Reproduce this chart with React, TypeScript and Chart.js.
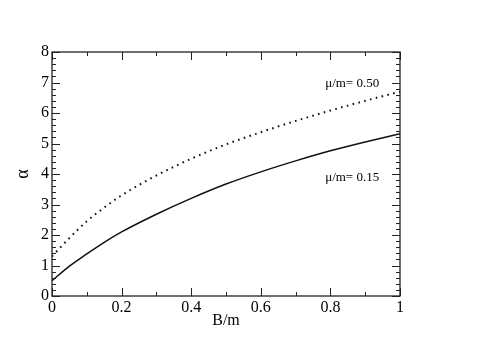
import React, { useEffect, useRef } from "react";
import { Chart, registerables } from "chart.js";

Chart.register(...registerables);

const bValues = [0, 0.05, 0.1, 0.15, 0.2, 0.3, 0.4, 0.5, 0.6, 0.7, 0.8, 0.9, 1.0];
const alphaMu015 = [0.5, 0.98, 1.38, 1.76, 2.1, 2.68, 3.2, 3.67, 4.07, 4.43, 4.76, 5.05, 5.32];
const alphaMu050 = [1.3, 1.9, 2.45, 2.9, 3.3, 3.95, 4.5, 4.97, 5.37, 5.74, 6.08, 6.4, 6.7];
const xTicks = [0, 0.2, 0.4, 0.6, 0.8, 1];
const yTicks = [0, 1, 2, 3, 4, 5, 6, 7, 8];
const labels = [
  { text: "\u03bc/m= 0.50", x: 0.785, y: 6.98 },
  { text: "\u03bc/m= 0.15", x: 0.785, y: 3.87 },
];

const FONT = "Liberation Serif, Times New Roman, serif";

const framePlugin = {
  id: "frameTicks",
  afterDatasetsDraw(chart: any) {
    const { ctx, chartArea: a, scales } = chart;
    const xs = scales.x;
    const ys = scales.y;
    ctx.save();
    ctx.strokeStyle = "#222";
    ctx.lineWidth = 1.3;
    ctx.strokeRect(a.left, a.top, a.right - a.left, a.bottom - a.top);
    ctx.lineWidth = 1;
    ctx.beginPath();
    for (let i = 0; i <= 10; i++) {
      const v = i / 10;
      const px = Math.round(xs.getPixelForValue(v)) + 0.5;
      const len = i % 2 === 0 ? 8 : 4;
      ctx.moveTo(px, a.bottom);
      ctx.lineTo(px, a.bottom - len);
      ctx.moveTo(px, a.top);
      ctx.lineTo(px, a.top + len);
    }
    for (let i = 0; i <= 40; i++) {
      const v = i / 5;
      const py = Math.round(ys.getPixelForValue(v)) + 0.5;
      const len = i % 5 === 0 ? 8 : 4;
      ctx.moveTo(a.left, py);
      ctx.lineTo(a.left + len, py);
      ctx.moveTo(a.right, py);
      ctx.lineTo(a.right - len, py);
    }
    ctx.stroke();
    ctx.fillStyle = "#000";
    ctx.font = "13px " + FONT;
    ctx.textBaseline = "middle";
    ctx.textAlign = "left";
    for (const l of labels) {
      ctx.fillText(l.text, xs.getPixelForValue(l.x), ys.getPixelForValue(l.y));
    }
    ctx.restore();
  },
};

export default function App() {
  const ref = useRef<HTMLCanvasElement | null>(null);
  useEffect(() => {
    if (!ref.current) return;
    const chart = new Chart(ref.current, {
      type: "line",
      data: {
        datasets: [
          {
            label: "mu015",
            data: bValues.map((b, i) => ({ x: b, y: alphaMu015[i] })),
            borderColor: "#111",
            borderWidth: 1.5,
            pointRadius: 0,
            cubicInterpolationMode: "monotone",
            fill: false,
          },
          {
            label: "mu050",
            data: bValues.map((b, i) => ({ x: b, y: alphaMu050[i] })),
            borderColor: "#111",
            borderWidth: 2,
            borderDash: [1.6, 4.4],
            pointRadius: 0,
            cubicInterpolationMode: "monotone",
            fill: false,
          },
        ],
      },
      options: {
        animation: false,
        responsive: true,
        maintainAspectRatio: false,
        layout: { padding: { left: 7, top: 52, right: 91, bottom: 17 } },
        plugins: { legend: { display: false }, tooltip: { enabled: false } },
        scales: {
          x: {
            type: "linear",
            min: 0,
            max: 1,
            afterBuildTicks: (s: any) => {
              s.ticks = xTicks.map((v) => ({ value: v }));
            },
            afterFit: (s: any) => {
              s.height = 34;
            },
            grid: { display: false, drawTicks: false },
            border: { display: false },
            ticks: {
              font: { family: FONT, size: 16 },
              color: "#000",
              padding: 2,
              maxRotation: 0,
              callback: (v: any) => String(v),
            },
            title: {
              display: true,
              text: "B/m",
              font: { family: FONT, size: 16 },
              color: "#000",
              padding: { top: 0, bottom: 0 },
            },
          },
          y: {
            type: "linear",
            min: 0,
            max: 8,
            afterBuildTicks: (s: any) => {
              s.ticks = yTicks.map((v) => ({ value: v }));
            },
            afterFit: (s: any) => {
              s.width = 45;
            },
            grid: { display: false, drawTicks: false },
            border: { display: false },
            ticks: {
              font: { family: FONT, size: 16 },
              color: "#000",
              padding: 3,
            },
            title: {
              display: true,
              text: "\u03b1",
              font: { family: FONT, size: 18 },
              color: "#000",
              padding: { top: 5, bottom: 0 },
            },
          },
        },
      },
      plugins: [framePlugin],
    });
    return () => chart.destroy();
  }, []);
  return (
    <div style={{ position: "absolute", left: 0, top: 0, width: 491, height: 347, background: "#fff" }}>
      <canvas ref={ref} />
    </div>
  );
}
